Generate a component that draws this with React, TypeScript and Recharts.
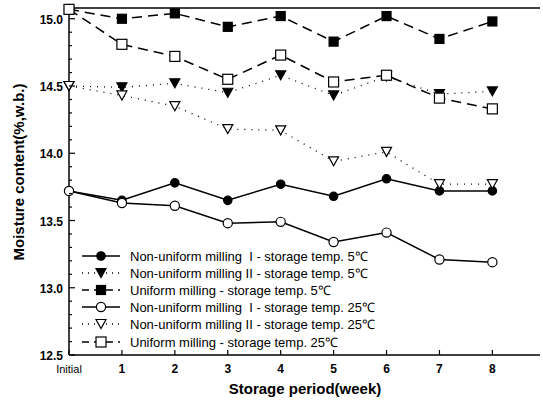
import React from "react";
import { LineChart, Line, XAxis, YAxis, ReferenceLine } from "recharts";

const weeks = [0, 1, 2, 3, 4, 5, 6, 7, 8];
const nonUniformI5 = [13.72, 13.65, 13.78, 13.65, 13.77, 13.68, 13.81, 13.72, 13.72];
const nonUniformII5 = [14.5, 14.49, 14.52, 14.45, 14.58, 14.43, 14.57, 14.44, 14.46];
const uniform5 = [15.07, 15.0, 15.04, 14.94, 15.02, 14.83, 15.02, 14.85, 14.98];
const nonUniformI25 = [13.72, 13.63, 13.61, 13.48, 13.49, 13.34, 13.41, 13.21, 13.19];
const nonUniformII25 = [14.5, 14.43, 14.35, 14.18, 14.17, 13.94, 14.01, 13.77, 13.77];
const uniform25 = [15.07, 14.81, 14.72, 14.55, 14.73, 14.53, 14.58, 14.41, 14.33];

const xTicks = [0, 1, 2, 3, 4, 5, 6, 7, 8];
const yTicks = [
  12.5, 12.6, 12.7, 12.8, 12.9, 13.0, 13.1, 13.2, 13.3, 13.4, 13.5, 13.6, 13.7, 13.8, 13.9,
  14.0, 14.1, 14.2, 14.3, 14.4, 14.5, 14.6, 14.7, 14.8, 14.9, 15.0,
];
const Y_MIN = 12.5;
const Y_MAX = 15.08;
const X_MAX = 8.9;

const data = weeks.map((w, i) => ({
  week: w,
  nu1_5: nonUniformI5[i],
  nu2_5: nonUniformII5[i],
  u_5: uniform5[i],
  nu1_25: nonUniformI25[i],
  nu2_25: nonUniformII25[i],
  u_25: uniform25[i],
}));

const FONT = "'Liberation Sans', Arial, sans-serif";

type MarkerKind = "circle" | "tri" | "square";

function Marker({ kind, filled, cx, cy }: { kind: MarkerKind; filled: boolean; cx: number; cy: number }) {
  const fill = filled ? "#000" : "#fff";
  if (kind === "circle") {
    return <circle cx={cx} cy={cy} r={filled ? 4.2 : 4.6} fill={fill} stroke="#000" strokeWidth={1.2} />;
  }
  if (kind === "tri") {
    const pts = `${cx - 5},${cy - 4.5} ${cx + 5},${cy - 4.5} ${cx},${cy + 4.5}`;
    return <polygon points={pts} fill={fill} stroke="#000" strokeWidth={1.2} />;
  }
  const s = filled ? 9 : 10;
  return <rect x={cx - s / 2} y={cy - s / 2} width={s} height={s} fill={fill} stroke="#000" strokeWidth={1.2} />;
}

const series = [
  { key: "nu1_5", name: "Non-uniform milling  I - storage temp. 5\u2103", kind: "circle" as MarkerKind, filled: true, dash: undefined },
  { key: "nu2_5", name: "Non-uniform milling II - storage temp. 5\u2103", kind: "tri" as MarkerKind, filled: true, dash: "1 6" },
  { key: "u_5", name: "Uniform milling - storage temp. 5\u2103", kind: "square" as MarkerKind, filled: true, dash: "10 6" },
  { key: "nu1_25", name: "Non-uniform milling  I - storage temp. 25\u2103", kind: "circle" as MarkerKind, filled: false, dash: undefined },
  { key: "nu2_25", name: "Non-uniform milling II - storage temp. 25\u2103", kind: "tri" as MarkerKind, filled: false, dash: "1 6" },
  { key: "u_25", name: "Uniform milling - storage temp. 25\u2103", kind: "square" as MarkerKind, filled: false, dash: "10 6" },
];

function XTick(props: any) {
  const { x, y, payload } = props;
  const label = payload.value === 0 ? "Initial" : String(payload.value);
  return (
    <g>
      <line x1={x} x2={x} y1={y} y2={y - 5} stroke="#000" strokeWidth={1.2} />
      <text
        x={x}
        y={y + 18}
        textAnchor="middle"
        fontFamily={FONT}
        fontSize={payload.value === 0 ? 11 : 12}
        fontWeight={payload.value === 0 ? 400 : 700}
        fill="#000"
      >
        {label}
      </text>
    </g>
  );
}

function YTick(props: any) {
  const { x, y, payload } = props;
  const v = Number(payload.value);
  const major = Math.abs(v * 2 - Math.round(v * 2)) < 1e-6;
  return (
    <g>
      <line x1={x} x2={x + (major ? 6 : 3)} y1={y} y2={y} stroke="#000" strokeWidth={1.2} />
      {major && (
        <text x={x - 6} y={y + 5} textAnchor="end" fontFamily={FONT} fontSize={12} fontWeight={700} fill="#000">
          {v.toFixed(1)}
        </text>
      )}
    </g>
  );
}

function LegendBox() {
  return (
    <div style={{ position: "absolute", left: 80, top: 247, fontFamily: FONT, fontSize: 13, color: "#000" }}>
      {series.map((s) => (
        <div key={s.key} style={{ display: "flex", alignItems: "center", height: 17.2 }}>
          <svg width={42} height={14} style={{ marginRight: 8 }}>
            <line x1={2} x2={40} y1={7} y2={7} stroke="#000" strokeWidth={1.5} strokeDasharray={s.dash ? (s.dash === "1 6" ? "1 5" : "7 5") : undefined} />
            <Marker kind={s.kind} filled={s.filled} cx={21} cy={7} />
          </svg>
          <span style={{ whiteSpace: "pre" }}>{s.name}</span>
        </div>
      ))}
    </div>
  );
}

export default function App() {
  return (
    <div style={{ position: "absolute", left: 0, top: 0, width: 543, height: 408, background: "#fff" }}>
      <LineChart width={543} height={408} data={data} margin={{ top: 8, right: 3, left: 0, bottom: 0 }}>
        <XAxis
          dataKey="week"
          type="number"
          domain={[0, X_MAX]}
          ticks={xTicks}
          tick={<XTick />}
          tickLine={false}
          tickSize={0}
          tickMargin={0}
          axisLine={{ stroke: "#000", strokeWidth: 1.5 }}
          height={53}
          interval={0}
        />
        <YAxis
          type="number"
          domain={[Y_MIN, Y_MAX]}
          ticks={yTicks}
          tick={<YTick />}
          tickLine={false}
          tickSize={0}
          tickMargin={0}
          axisLine={{ stroke: "#000", strokeWidth: 1.5 }}
          width={69}
          interval={0}
        />
        <ReferenceLine y={Y_MAX} stroke="#000" strokeWidth={1.5} />
        {series.map((s) => (
          <Line
            key={s.key}
            dataKey={s.key}
            stroke="#000"
            strokeWidth={s.dash === "1 6" ? 1.3 : 1.5}
            strokeDasharray={s.dash}
            isAnimationActive={false}
            dot={(p: any) => <Marker key={`${s.key}-${p.index}`} kind={s.kind} filled={s.filled} cx={p.cx} cy={p.cy} />}
            activeDot={false}
          />
        ))}
      </LineChart>
      <LegendBox />
      <div
        style={{
          position: "absolute",
          left: 18,
          top: 172,
          transform: "translate(-50%, -50%) rotate(-90deg)",
          whiteSpace: "nowrap",
          fontFamily: FONT,
          fontSize: 15,
          fontWeight: 700,
        }}
      >
        Moisture content(%,w.b.)
      </div>
      <div
        style={{
          position: "absolute",
          left: 305,
          top: 388,
          transform: "translate(-50%, -50%)",
          whiteSpace: "nowrap",
          fontFamily: FONT,
          fontSize: 15,
          fontWeight: 700,
        }}
      >
        Storage period(week)
      </div>
    </div>
  );
}
